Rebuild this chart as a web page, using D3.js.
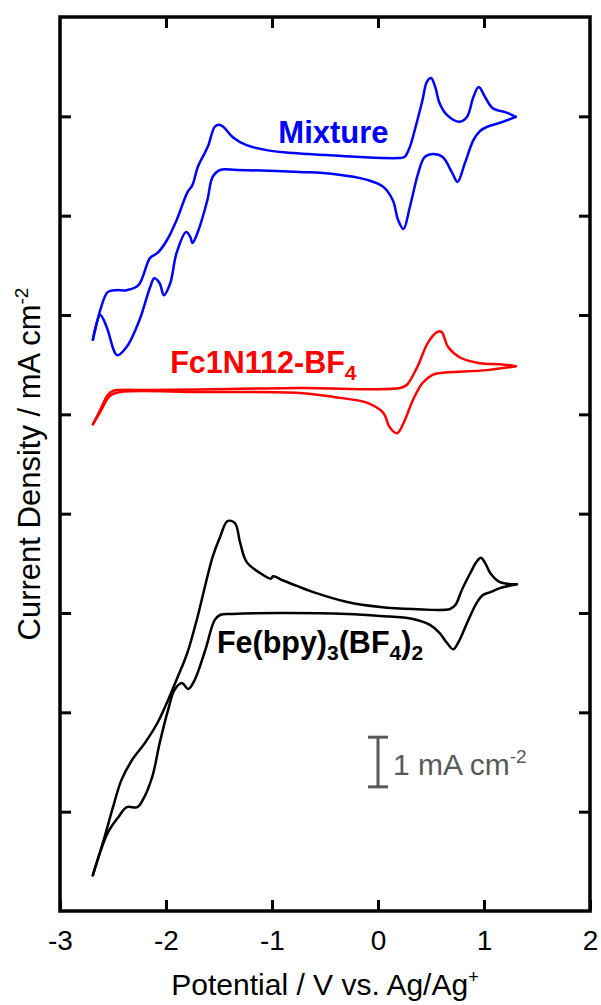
<!DOCTYPE html>
<html lang="en">
<head>
<meta charset="UTF-8">
<title>Cyclic voltammograms</title>
<style>
  body { margin: 0; background: #fff; }
  svg { display: block; font-family: "Liberation Sans", Arial, sans-serif; }
</style>
</head>
<body>
<div id="chart"></div>
<script src="https://d3js.org/d3.v7.min.js"></script>
<script>
// potential (V vs Ag/Ag+) and current density (mA cm-2, offset stacked)
// each curve: forward scan (upper branch) then the return scan (lower branch)
const mixtureUpper = [
  [-2.69, 11.50], [-2.61, 12.17], [-2.55, 12.46], [-2.47, 12.50], [-2.37, 12.50], [-2.26, 12.60],
  [-2.15, 13.15], [-2.08, 13.25], [-1.99, 13.51], [-1.90, 13.91], [-1.80, 14.46], [-1.75, 14.62],
  [-1.70, 14.98], [-1.63, 15.28], [-1.60, 15.42], [-1.54, 15.79], [-1.50, 15.83], [-1.46, 15.79],
  [-1.37, 15.58], [-1.24, 15.42], [-1.05, 15.32], [-0.80, 15.26], [-0.48, 15.22], [-0.17, 15.18],
  [0.19, 15.16], [0.25, 15.18], [0.30, 15.38], [0.35, 15.75], [0.42, 16.33], [0.46, 16.69],
  [0.50, 16.77], [0.54, 16.59], [0.58, 16.27], [0.65, 16.03], [0.77, 15.89], [0.84, 15.99],
  [0.90, 16.39], [0.95, 16.59], [1.01, 16.39], [1.08, 16.17], [1.22, 16.07], [1.30, 15.99]
];
const mixtureLower = [
  [1.30, 15.99], [1.15, 15.87], [1.03, 15.79], [0.96, 15.70], [0.90, 15.52], [0.82, 15.06],
  [0.75, 14.68], [0.70, 14.86], [0.61, 15.18], [0.52, 15.24], [0.44, 15.18], [0.38, 14.86],
  [0.30, 14.17], [0.24, 13.73], [0.19, 13.91], [0.14, 14.31], [0.05, 14.58], [-0.10, 14.72],
  [-0.42, 14.84], [-0.74, 14.88], [-1.33, 14.92], [-1.49, 14.92], [-1.56, 14.78], [-1.61, 14.31],
  [-1.70, 13.67], [-1.75, 13.45], [-1.77, 13.57], [-1.81, 13.67], [-1.90, 13.25], [-1.96, 12.64],
  [-2.02, 12.40], [-2.06, 12.64], [-2.11, 12.74], [-2.15, 12.56], [-2.25, 11.90], [-2.37, 11.36],
  [-2.46, 11.19], [-2.56, 11.76], [-2.62, 12.00], [-2.69, 11.50]
];

const fcUpper = [
  [-2.69, 9.80], [-2.62, 10.09], [-2.55, 10.39], [-2.50, 10.47], [-2.43, 10.49], [-2.18, 10.49],
  [-1.68, 10.50], [-0.74, 10.53], [0.21, 10.53], [0.27, 10.59], [0.37, 10.95], [0.47, 11.44],
  [0.56, 11.66], [0.60, 11.66], [0.66, 11.36], [0.77, 11.15], [0.96, 11.03], [1.15, 11.01],
  [1.30, 10.97]
];
const fcLower = [
  [1.30, 10.97], [1.03, 10.89], [0.58, 10.83], [0.51, 10.79], [0.42, 10.63], [0.33, 10.29],
  [0.24, 9.82], [0.18, 9.62], [0.11, 9.74], [0.05, 10.03], [-0.10, 10.23], [-0.42, 10.35],
  [-0.74, 10.43], [-1.68, 10.45], [-2.43, 10.45], [-2.53, 10.37], [-2.62, 10.05], [-2.69, 9.80]
];

const febpyUpper = [
  [-2.69, 0.72], [-2.58, 1.49], [-2.50, 2.09], [-2.42, 2.64], [-2.32, 3.04], [-2.20, 3.38],
  [-2.08, 3.79], [-1.98, 4.25], [-1.89, 4.71], [-1.80, 5.19], [-1.71, 5.86], [-1.56, 7.13],
  [-1.49, 7.53], [-1.42, 7.85], [-1.35, 7.81], [-1.30, 7.41], [-1.24, 7.03], [-1.11, 6.80],
  [-1.01, 6.69], [-0.99, 6.74], [-0.90, 6.66], [-0.76, 6.54], [-0.61, 6.42], [-0.29, 6.22],
  [0.02, 6.12], [0.33, 6.08], [0.68, 6.08], [0.73, 6.16], [0.79, 6.46], [0.87, 6.80],
  [0.93, 7.03], [0.97, 7.11], [1.01, 7.01], [1.06, 6.80], [1.15, 6.62], [1.31, 6.58]
];
const febpyLower = [
  [1.31, 6.58], [1.15, 6.50], [1.06, 6.42], [0.99, 6.36], [0.93, 6.20], [0.84, 5.80],
  [0.77, 5.46], [0.71, 5.27], [0.65, 5.40], [0.58, 5.60], [0.49, 5.76], [0.33, 5.88],
  [0.02, 5.94], [-0.29, 5.98], [-0.92, 6.00], [-1.37, 5.98], [-1.49, 5.96], [-1.54, 5.86],
  [-1.63, 5.25], [-1.73, 4.65], [-1.79, 4.47], [-1.85, 4.59], [-1.92, 4.45], [-1.98, 4.05],
  [-2.06, 3.38], [-2.13, 2.70], [-2.22, 2.23], [-2.27, 2.09], [-2.37, 2.09], [-2.45, 1.89],
  [-2.55, 1.57], [-2.69, 0.72]
];

const xTicks = [-3, -2, -1, 0, 1, 2];
const yTicks = [2, 4, 6, 8, 10, 12, 14, 16];

const curves = [
  { name: "Mixture", color: "#0000ff", branches: [mixtureUpper, mixtureLower] },
  { name: "Fc1N112-BF4", color: "#ff0000", branches: [fcUpper, fcLower] },
  { name: "Fe(bpy)3(BF4)2", color: "#000000", branches: [febpyUpper, febpyLower] }
];

const width = 601, height = 1005;
const margin = { top: 17, right: 11, bottom: 94, left: 60 };

const x = d3.scaleLinear().domain([-3, 2]).range([margin.left, width - margin.right]);
const y = d3.scaleLinear().domain([0, 18]).range([height - margin.bottom, margin.top]);

const svg = d3.select("#chart").append("svg")
  .attr("width", width)
  .attr("height", height);

const line = d3.line()
  .x(d => x(d[0]))
  .y(d => y(d[1]))
  .curve(d3.curveCatmullRom.alpha(0.5));

// curves
curves.forEach(c => {
  c.branches.forEach(b => {
    svg.append("path")
      .datum(b)
      .attr("fill", "none")
      .attr("stroke", c.color)
      .attr("stroke-width", 2.5)
      .attr("stroke-linejoin", "round")
      .attr("stroke-linecap", "round")
      .attr("d", line);
  });
});

// axes: inward ticks on all four sides
const tickLen = 11;
const xb = svg.append("g")
  .attr("transform", `translate(0,${y(0)})`)
  .call(d3.axisBottom(x).tickValues(xTicks).tickSize(-tickLen).tickSizeOuter(0).tickPadding(19)
    .tickFormat(d => String(d)));
xb.select(".domain").remove();
xb.selectAll("line").attr("stroke", "#000").attr("stroke-width", 3);
xb.selectAll("text").attr("font-size", 28).attr("fill", "#000")
  .attr("font-family", "'Liberation Sans', Arial, sans-serif");

const xt = svg.append("g")
  .attr("transform", `translate(0,${y(18)})`)
  .call(d3.axisTop(x).tickValues(xTicks.slice(1, -1)).tickSize(-tickLen).tickFormat(""));
xt.select(".domain").remove();
xt.selectAll("line").attr("stroke", "#000").attr("stroke-width", 3);

const yl = svg.append("g")
  .attr("transform", `translate(${x(-3)},0)`)
  .call(d3.axisLeft(y).tickValues(yTicks).tickSize(-tickLen).tickFormat(""));
yl.select(".domain").remove();
yl.selectAll("line").attr("stroke", "#000").attr("stroke-width", 3);

const yr = svg.append("g")
  .attr("transform", `translate(${x(2)},0)`)
  .call(d3.axisRight(y).tickValues(yTicks).tickSize(-tickLen).tickFormat(""));
yr.select(".domain").remove();
yr.selectAll("line").attr("stroke", "#000").attr("stroke-width", 3);

// frame
svg.append("rect")
  .attr("x", x(-3)).attr("y", y(18))
  .attr("width", x(2) - x(-3)).attr("height", y(0) - y(18))
  .attr("fill", "none").attr("stroke", "#000").attr("stroke-width", 3.5);

// axis titles
const xTitle = svg.append("text")
  .attr("x", (x(-3) + x(2)) / 2)
  .attr("y", 995)
  .attr("text-anchor", "middle")
  .attr("font-size", 30);
xTitle.append("tspan").text("Potential / V vs. Ag/Ag");
xTitle.append("tspan").attr("dy", -12).attr("font-size", 18).text("+");

const yTitle = svg.append("text")
  .attr("transform", `translate(40,${(y(0) + y(18)) / 2}) rotate(-90)`)
  .attr("text-anchor", "middle")
  .attr("font-size", 31);
yTitle.append("tspan").text("Current Density / mA cm");
yTitle.append("tspan").attr("dy", -12).attr("font-size", 19).text("-2");

// curve labels
svg.append("text")
  .attr("x", x(-0.42)).attr("y", y(15.46))
  .attr("text-anchor", "middle")
  .attr("font-size", 31).attr("font-weight", "bold").attr("fill", "#0000ff")
  .text("Mixture");

const fc = svg.append("text")
  .attr("x", x(-1.96)).attr("y", y(10.83))
  .attr("font-size", 30.5).attr("font-weight", "bold").attr("fill", "#ff0000");
fc.append("tspan").text("Fc1N112-BF");
fc.append("tspan").attr("dy", 7).attr("font-size", 21).text("4");

const fe = svg.append("text")
  .attr("x", x(-1.52)).attr("y", y(5.19))
  .attr("font-size", 30.5).attr("font-weight", "bold").attr("fill", "#000");
fe.append("tspan").text("Fe(bpy)");
fe.append("tspan").attr("dy", 7).attr("font-size", 21).text("3");
fe.append("tspan").attr("dy", -7).text("(BF");
fe.append("tspan").attr("dy", 7).attr("font-size", 21).text("4");
fe.append("tspan").attr("dy", -7).text(")");
fe.append("tspan").attr("dy", 7).attr("font-size", 21).text("2");

// 1 mA cm-2 scale bar
const barV = 0, barLo = 2.5, barHi = 3.5, cap = 10;
const bar = svg.append("g").attr("stroke", "#595959").attr("stroke-width", 3);
bar.append("line").attr("x1", x(barV)).attr("x2", x(barV)).attr("y1", y(barLo)).attr("y2", y(barHi));
bar.append("line").attr("x1", x(barV) - cap).attr("x2", x(barV) + cap).attr("y1", y(barLo)).attr("y2", y(barLo));
bar.append("line").attr("x1", x(barV) - cap).attr("x2", x(barV) + cap).attr("y1", y(barHi)).attr("y2", y(barHi));

const barText = svg.append("text")
  .attr("x", x(barV) + 15)
  .attr("y", y((barLo + barHi) / 2) + 13)
  .attr("font-size", 30).attr("fill", "#595959");
barText.append("tspan").text("1 mA cm");
barText.append("tspan").attr("dy", -12).attr("font-size", 19).text("-2");
</script>
</body>
</html>
